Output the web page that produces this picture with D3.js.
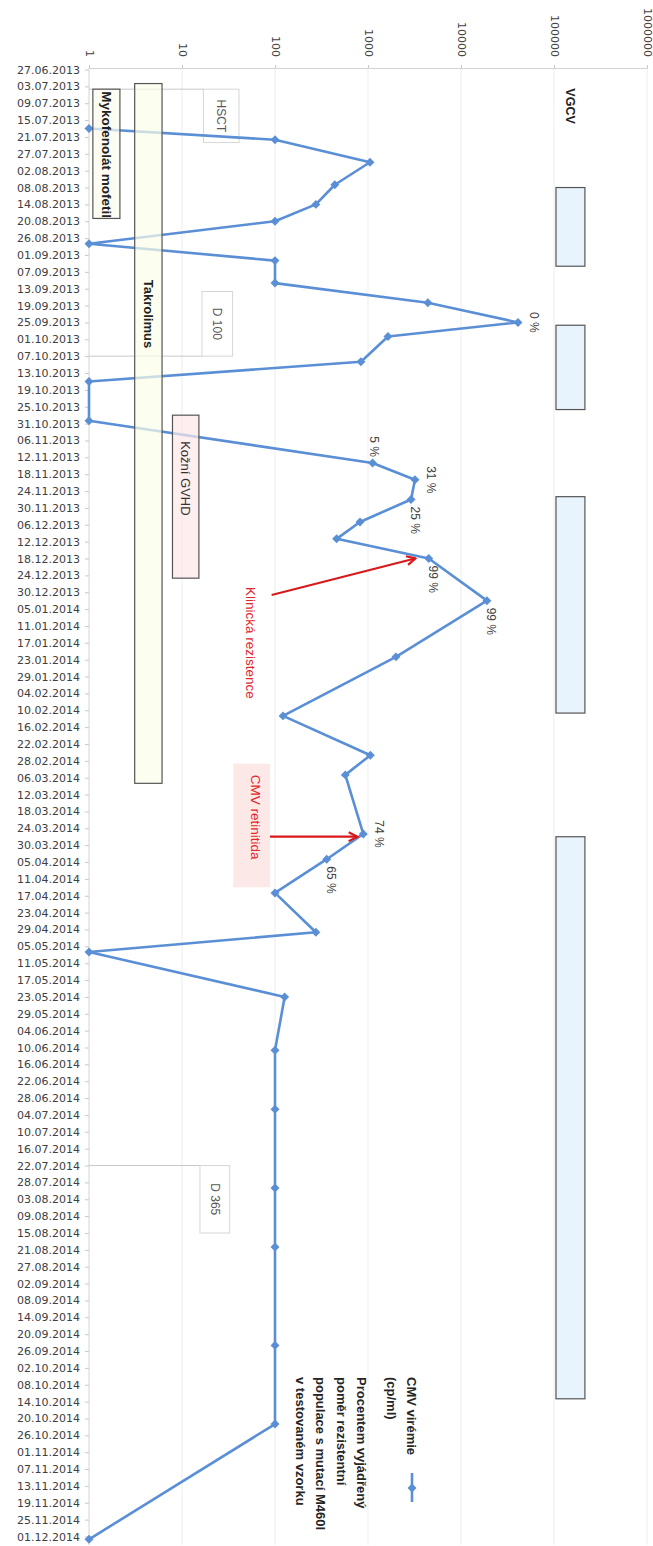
<!DOCTYPE html>
<html>
<head>
<meta charset="utf-8">
<script src="https://cdn.jsdelivr.net/npm/d3@7"></script>
<style>
  body { margin: 0; background: #fff; }
  svg { display: block; }
  text { font-family: "Liberation Sans", Arial, sans-serif; }
  .axis text { font-family: "DejaVu Sans", sans-serif; font-size: 11px; fill: #404040; }
  .axis line { stroke: #c8c8c8; }
</style>
</head>
<body>
<svg id="chart" width="653" height="1546"></svg>
<script>
// date axis
const axisStart = "27.06.2013";
const axisEnd = "01.12.2014";
const valueTicks = [1, 10, 100, 1000, 10000, 100000, 1000000];

// CMV viremia (cp/ml)
const sampleDates = ["18.07.2013","22.07.2013","30.07.2013","07.08.2013","14.08.2013","20.08.2013",
  "28.08.2013","03.09.2013","11.09.2013","18.09.2013","25.09.2013","30.09.2013","09.10.2013",
  "16.10.2013","30.10.2013","14.11.2013","20.11.2013","27.11.2013","05.12.2013","11.12.2013",
  "18.12.2013","02.01.2014","22.01.2014","12.02.2014","26.02.2014","05.03.2014","26.03.2014",
  "04.04.2014","16.04.2014","30.04.2014","07.05.2014","23.05.2014","11.06.2014","02.07.2014",
  "30.07.2014","20.08.2014","24.09.2014","22.10.2014","02.12.2014"];
const cmvLoad = [1, 100, 1050, 440, 275, 100, 1, 100, 100, 4400, 41000, 1640, 840, 1, 1, 1120, 3200,
  2900, 820, 460, 4500, 19000, 2000, 122, 1060, 570, 890, 360, 100, 275, 1, 127, 100, 100, 100,
  100, 100, 100, 1];

// % resistant population (M460I)
const pctIndex = [10, 15, 16, 17, 20, 21, 26, 27];
const pctText = ["0 %", "5 %", "31 %", "25 %", "99 %", "99 %", "74 %", "65 %"];

// immunosuppression / GVHD periods
const therapyNames = ["Mykofenolát mofetil", "Takrolimus", "Kožní GVHD"];
const therapyStart = ["04.07.2013", "02.07.2013", "28.10.2013"];
const therapyEnd = ["19.08.2013", "08.03.2014", "25.12.2013"];

// valganciclovir courses
const vgcvStart = ["08.08.2013", "26.09.2013", "26.11.2013", "27.03.2014"];
const vgcvEnd = ["05.09.2013", "26.10.2013", "11.02.2014", "13.10.2014"];

// milestones
const milestoneNames = ["HSCT", "D 100", "D 365"];
const milestoneDates = ["04.07.2013", "07.10.2013", "22.07.2014"];
const milestoneBoxEnd = ["23.07.2013", "14.09.2013", "15.08.2014"];

const legendLines = [["CMV virémie", "(cp/ml)"],
  ["Procentem vyjádřený", "poměr rezistentní", "populace s mutací M460I", "v testovaném vzorku"]];

const parse = d3.utcParse("%d.%m.%Y");
const fmt = d3.utcFormat("%d.%m.%Y");
const svg = d3.select("#chart");

const axisY = 68, endY = 1545;
const x = d3.scaleLog().domain([1, 1000000]).range([89, 647]);
const y = d3.scaleUtc().domain([parse(axisStart), parse(axisEnd)]).range([69.5, 1536.5]);

const dateTicks = d3.utcDay.range(parse(axisStart), d3.utcDay.offset(parse(axisEnd), 1))
  .filter((d, i) => i % 6 === 0);

function vtext(g, px, py, str, anchor) {
  return g.append("text")
    .attr("transform", `translate(${px},${py}) rotate(90)`)
    .attr("text-anchor", anchor)
    .attr("dy", "0.35em")
    .text(str);
}

// grid
svg.append("g").selectAll("line").data(valueTicks.slice(1)).join("line")
  .attr("x1", d => x(d)).attr("x2", d => x(d))
  .attr("y1", axisY).attr("y2", endY)
  .attr("stroke", "#ededed");

// top value axis
const gx = svg.append("g").attr("class", "axis").attr("transform", `translate(0,${axisY})`)
  .call(d3.axisTop(x).tickValues(valueTicks).tickFormat(d3.format("d")).tickSize(3));
gx.select(".domain").attr("stroke", "#d4d4d4");
gx.selectAll("text")
  .attr("transform", "rotate(90)")
  .attr("x", -11).attr("y", 0).attr("dy", "0.35em")
  .style("text-anchor", "end");

// left date axis
const gy = svg.append("g").attr("class", "axis").attr("transform", `translate(${x(1)},0)`)
  .call(d3.axisLeft(y).tickValues(dateTicks).tickFormat(fmt).tickSize(4).tickPadding(5));
gy.select(".domain").remove();
svg.append("line").attr("x1", x(1)).attr("x2", x(1)).attr("y1", axisY).attr("y2", endY)
  .attr("stroke", "#d4d4d4");

// milestone callouts
const ms = svg.append("g");
const msBox = [[17, 41], [16.4, 35], [15.6, 32.6]];
milestoneNames.forEach((name, i) => {
  const y0 = y(parse(milestoneDates[i])), y1 = y(parse(milestoneBoxEnd[i]));
  const bx0 = x(msBox[i][0]), bx1 = x(msBox[i][1]);
  ms.append("line").attr("x1", x(1)).attr("x2", bx0).attr("y1", y0).attr("y2", y0)
    .attr("stroke", "#c9c9c9");
  ms.append("rect").attr("x", bx0).attr("width", bx1 - bx0)
    .attr("y", Math.min(y0, y1)).attr("height", Math.abs(y1 - y0))
    .attr("fill", "#fff").attr("stroke", "#d6d6d6");
  vtext(ms, (bx0 + bx1) / 2, (y0 + y1) / 2, name, "middle")
    .attr("font-size", 12).attr("fill", "#595959");
});

// VGCV bars
const vg = svg.append("g");
vg.selectAll("rect").data(vgcvStart).join("rect")
  .attr("x", x(105000)).attr("width", x(215000) - x(105000))
  .attr("y", d => y(parse(d)))
  .attr("height", (d, i) => y(parse(vgcvEnd[i])) - y(parse(d)))
  .attr("fill", "#e7f3fd").attr("stroke", "#555").attr("stroke-width", 1.2);
vtext(vg, x(150000), y(parse("10.07.2013")), "VGCV", "middle")
  .attr("font-size", 12.5).attr("font-weight", "bold").attr("fill", "#222");

// CMV line
const pts = sampleDates.map((d, i) => ({ date: parse(d), v: cmvLoad[i] }));
const blue = "#5a8fd6";
svg.append("path").datum(pts)
  .attr("fill", "none").attr("stroke", blue).attr("stroke-width", 2.6)
  .attr("stroke-linejoin", "round")
  .attr("d", d3.line().x(d => x(d.v)).y(d => y(d.date)));
svg.append("g").selectAll("path").data(pts).join("path")
  .attr("transform", d => `translate(${x(d.v)},${y(d.date)}) rotate(45)`)
  .attr("d", d3.symbol(d3.symbolSquare, 40))
  .attr("fill", blue);

// therapy bars (semi-transparent, above the line)
const tg = svg.append("g");
const therapyRange = [[1.1, 2.15], [3.1, 6.1], [7.9, 15.2]];
const therapyFill = ["#fbfbee", "#fbfde8", "#fde7e8"];
therapyNames.forEach((name, i) => {
  const y0 = y(parse(therapyStart[i])), y1 = y(parse(therapyEnd[i]));
  const bx0 = x(therapyRange[i][0]), bx1 = x(therapyRange[i][1]);
  tg.append("rect").attr("x", bx0).attr("width", bx1 - bx0)
    .attr("y", y0).attr("height", y1 - y0)
    .attr("fill", therapyFill[i]).attr("fill-opacity", 0.7)
    .attr("stroke", "#555").attr("stroke-width", 1.2);
  const cx = (bx0 + bx1) / 2;
  if (i === 0) vtext(tg, cx, y0 + 2, name, "start").attr("font-size", 13.5).attr("font-weight", "bold").attr("fill", "#222");
  if (i === 1) vtext(tg, cx, y(parse("22.09.2013")), name, "middle").attr("font-size", 13).attr("font-weight", "bold").attr("fill", "#222");
  if (i === 2) vtext(tg, cx, y0 + 26, name, "start").attr("font-size", 13).attr("fill", "#333");
});

// % labels
const placement = ["right", "above", "right", "below", "below", "below", "right", "below"];
const lg = svg.append("g").attr("fill", "#404040");
pctIndex.forEach((idx, k) => {
  const px = x(pts[idx].v), py = y(pts[idx].date);
  let t;
  if (placement[k] === "right") t = vtext(lg, px + 16, py, pctText[k], "middle");
  else if (placement[k] === "above") t = vtext(lg, px + 2, py - 6, pctText[k], "end");
  else t = vtext(lg, px + 4, py + 7, pctText[k], "start");
  t.attr("font-family", "DejaVu Sans").attr("font-size", 12);
});

// red annotations
const red = "#d8191c";
svg.append("defs").append("marker")
  .attr("id", "arr").attr("viewBox", "0 0 10 10").attr("refX", 8.5).attr("refY", 5)
  .attr("markerWidth", 5).attr("markerHeight", 5).attr("orient", "auto")
  .append("path").attr("d", "M1,1 L9,5 L1,9").attr("fill", "none")
  .attr("stroke", red).attr("stroke-width", 2);

const arrows = [
  { from: ["31.12.2013", 92], to: ["18.12.2013", 3200] },
  { from: ["27.03.2014", 88], to: ["27.03.2014", 760] }
];
svg.append("g").selectAll("line").data(arrows).join("line")
  .attr("x1", d => x(d.from[1])).attr("y1", d => y(parse(d.from[0])))
  .attr("x2", d => x(d.to[1])).attr("y2", d => y(parse(d.to[0])))
  .attr("stroke", red).attr("stroke-width", 2.2).attr("marker-end", "url(#arr)");

vtext(svg, x(55), y(parse("17.01.2014")), "Klinická rezistence", "middle")
  .attr("font-size", 13.5).attr("fill", "#e3262a");
svg.append("rect")
  .attr("x", x(35.6)).attr("width", x(88.3) - x(35.6))
  .attr("y", y(parse("01.03.2014"))).attr("height", y(parse("14.04.2014")) - y(parse("01.03.2014")))
  .attr("fill", "#fde8e8");
vtext(svg, x(62), y(parse("20.03.2014")), "CMV retinitida", "middle")
  .attr("font-size", 13.5).attr("fill", "#e3262a");

// legend
const leg = svg.append("g").attr("font-size", 13).attr("font-weight", "bold").attr("fill", "#262626");
const legTop = 1377;
const legX = [[412, 392], [362, 341.5, 321, 300.5]];
legendLines.forEach((grp, gi) => grp.forEach((line, li) => {
  vtext(leg, legX[gi][li], legTop, line, "start");
}));
leg.append("line").attr("x1", 412).attr("x2", 412).attr("y1", 1473).attr("y2", 1502)
  .attr("stroke", blue).attr("stroke-width", 2.6);
leg.append("path").attr("transform", "translate(412,1488) rotate(45)")
  .attr("d", d3.symbol(d3.symbolSquare, 40)).attr("fill", blue);
</script>
</body>
</html>
